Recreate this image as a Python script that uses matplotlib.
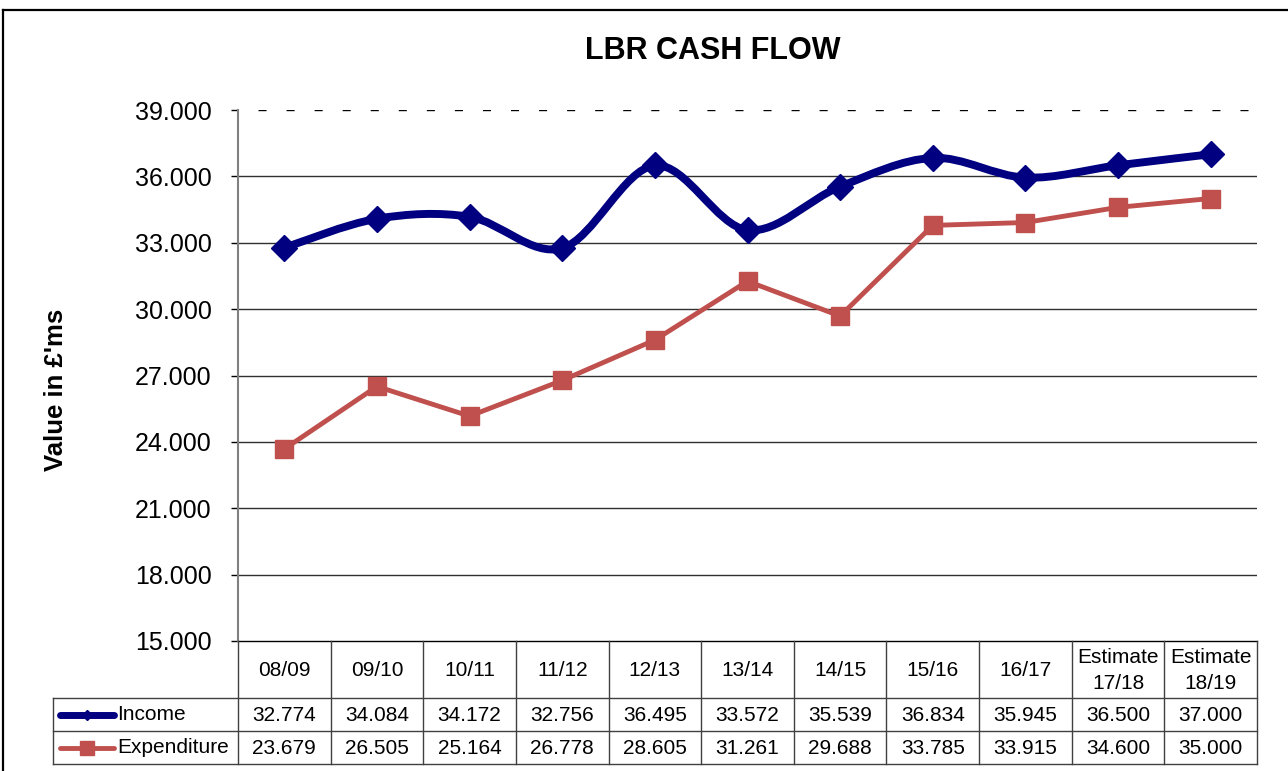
import matplotlib
matplotlib.use("Agg")
import matplotlib.pyplot as plt
import numpy as np
from matplotlib.path import Path
from matplotlib.patches import PathPatch
from matplotlib.lines import Line2D
from matplotlib.transforms import blended_transform_factory

# ---------------- data ----------------
categories = ["08/09", "09/10", "10/11", "11/12", "12/13", "13/14", "14/15",
              "15/16", "16/17", "Estimate\n17/18", "Estimate\n18/19"]
income = [32.774, 34.084, 34.172, 32.756, 36.495, 33.572, 35.539,
          36.834, 35.945, 36.500, 37.000]
expenditure = [23.679, 26.505, 25.164, 26.778, 28.605, 31.261, 29.688,
               33.785, 33.915, 34.600, 35.000]
series_names = ["Income", "Expenditure"]
yticks = [15, 18, 21, 24, 27, 30, 33, 36, 39]
title = "LBR CASH FLOW"
ylabel = "Value in £'ms"

plt.rcParams['font.family'] = ['Liberation Sans', 'DejaVu Sans']

W, H = 1288, 771
fig = plt.figure(figsize=(W / 100, H / 100), dpi=100)

def fx(px):
    return px / W

def fy(py):
    return 1 - py / H

ax_left, ax_right, ax_top, ax_bot = 238, 1257, 110, 641
ax = fig.add_axes([fx(ax_left), fy(ax_bot), fx(ax_right) - fx(ax_left), fy(ax_top) - fy(ax_bot)])

navy = "#000080"
red = "#C0504D"
gridc = "#303030"

n = len(categories)
x = np.arange(n)
ax.set_xlim(-0.5, n - 0.5)
ax.set_ylim(15, 39)

# gridlines
for t in yticks[1:-1]:
    ax.axhline(t, color=gridc, lw=1.0, zorder=1)
ax.axhline(39, color="black", lw=1.0, linestyle=(5.8, (5.8, 14.4)), zorder=1)

# smooth income curve (Catmull-Rom style bezier)
pts = np.column_stack([x, income]).astype(float)
verts = [tuple(pts[0])]
codes = [Path.MOVETO]
for i in range(n - 1):
    p0 = pts[i - 1] if i > 0 else pts[i]
    p1 = pts[i]
    p2 = pts[i + 1]
    p3 = pts[i + 2] if i + 2 < n else pts[i + 1]
    c1 = p1 + (p2 - p0) / 6.0
    c2 = p2 - (p3 - p1) / 6.0
    verts += [tuple(c1), tuple(c2), tuple(p2)]
    codes += [Path.CURVE4] * 3
ax.add_patch(PathPatch(Path(verts, codes), fill=False, edgecolor=navy, lw=5.7,
                       capstyle='round', joinstyle='round', zorder=3))
ax.plot(x, income, linestyle='none', marker='D', markersize=13, color=navy,
        markeredgecolor=navy, zorder=4)

ax.plot(x, expenditure, color=red, lw=3.5, marker='s', markersize=13.5,
        markeredgecolor=red, zorder=3, solid_joinstyle='round')

# axes styling
for s in ["top", "right"]:
    ax.spines[s].set_visible(False)
ax.spines["left"].set_color("#808080")
ax.spines["left"].set_linewidth(1.5)
ax.spines["bottom"].set_color("black")
ax.spines["bottom"].set_linewidth(1.0)
ax.set_yticks(yticks)
ax.set_yticklabels([f"{t:.3f}" for t in yticks], fontsize=18)
ax.tick_params(axis='y', length=5, width=1, color="black", pad=14)
ax.set_xticks([])

fig.text(fx(713), fy(51), title, fontsize=22, fontweight='bold', ha='center', va='center')
fig.text(fx(56), fy(390), ylabel, fontsize=18.5, fontweight='bold', ha='center',
         va='center', rotation=90)

# ---------------- data table ----------------
bt = blended_transform_factory(ax.transData, fig.transFigure)
tabc = "#404040"
y_head_top, y_row1, y_row2, y_bot = 641, 698, 731, 764
for b in np.arange(n + 1) - 0.5:
    fig.add_artist(Line2D([b, b], [fy(y_head_top), fy(y_bot)], transform=bt,
                          color=tabc, lw=1.0))
for yy in [y_row1, y_row2, y_bot]:
    fig.add_artist(Line2D([fx(53), fx(ax_right)], [fy(yy), fy(yy)],
                          transform=fig.transFigure, color=tabc, lw=1.0))
fig.add_artist(Line2D([fx(53), fx(53)], [fy(y_row1), fy(y_bot)],
                      transform=fig.transFigure, color=tabc, lw=1.0))

for i, c in enumerate(categories):
    fig.text(i, fy((y_head_top + y_row1) / 2 + 1), c, transform=bt, ha='center',
             va='center', fontsize=15, linespacing=1.45)
    fig.text(i, fy((y_row1 + y_row2) / 2 + 1), f"{income[i]:.3f}", transform=bt,
             ha='center', va='center', fontsize=15)
    fig.text(i, fy((y_row2 + y_bot) / 2 + 1), f"{expenditure[i]:.3f}", transform=bt,
             ha='center', va='center', fontsize=15)

# legend keys
yi = fy((y_row1 + y_row2) / 2)
ye = fy((y_row2 + y_bot) / 2)
fig.add_artist(Line2D([fx(60), fx(114)], [yi, yi], color=navy, lw=5, solid_capstyle='round'))
fig.add_artist(Line2D([fx(87)], [yi], color=navy, marker='D', markersize=5, linestyle='none'))
fig.add_artist(Line2D([fx(60), fx(114)], [ye, ye], color=red, lw=3.5, solid_capstyle='round'))
fig.add_artist(Line2D([fx(87)], [ye], color=red, marker='s', markersize=10, linestyle='none'))
fig.text(fx(117), yi, series_names[0], fontsize=15, ha='left', va='center')
fig.text(fx(117), ye, series_names[1], fontsize=15, ha='left', va='center')

# outer border
fig.add_artist(Line2D([fx(3), fx(W)], [fy(10), fy(10)], color="black", lw=1.6,
                      transform=fig.transFigure))
fig.add_artist(Line2D([fx(3), fx(3)], [fy(10), fy(H)], color="black", lw=1.6,
                      transform=fig.transFigure))

fig.savefig("out.png", dpi=100)
